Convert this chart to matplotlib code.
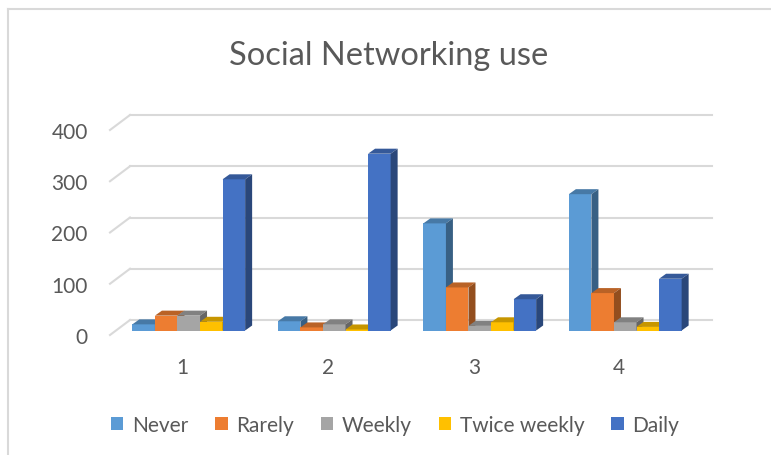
import matplotlib
matplotlib.use("Agg")
import matplotlib.pyplot as plt
from matplotlib.patches import Polygon, Patch
from matplotlib.lines import Line2D
from matplotlib.colors import to_rgb
import numpy as np

categories = ["1", "2", "3", "4"]
series = ["Never", "Rarely", "Weekly", "Twice weekly", "Daily"]
never = [12, 18, 209, 266]
rarely = [29, 6, 84, 73]
weekly = [29, 12, 9, 16]
twice_weekly = [17, 2, 16, 7]
daily = [295, 345, 61, 101]
colors = ["#5B9BD5", "#ED7D31", "#A5A5A5", "#FFC000", "#4472C4"]
yticks = [0, 100, 200, 300, 400]

plt.rcParams['font.family'] = ['Lato', 'DejaVu Sans']
TXT = "#595959"
GRID = "#d9d9d9"

W, H = 771, 456
fig = plt.figure(figsize=(W / 100, H / 100), dpi=100)
# front plane of the fake 3d box, in pixels
left, right, bot, top = 110, 692, 336, 131
ax = fig.add_axes([left / W, 1 - bot / H, (right - left) / W, (bot - top) / H])
ax.set_xlim(0.5, 4.5)
ax.set_ylim(0, 400)

sx = (right - left) / 4.0   # px per x unit
sy = (bot - top) / 400.0    # px per y unit

def off(px, py):
    return px / sx, py / sy

gdx, gdy = off(20, 15)   # back wall depth
bdx, bdy = off(6, 4.5)   # where bars sit
ddx, ddy = off(7, 5)     # bar depth

def shade(c, f):
    return tuple(np.array(to_rgb(c)) * f)

# gridlines: floor/side stub + back wall line
for v in yticks:
    ax.plot([0.5, 0.5 + gdx], [v, v + gdy], color=GRID, lw=1.5, clip_on=False, zorder=1)
    ax.plot([0.5 + gdx, 4.5 + gdx], [v + gdy, v + gdy], color=GRID, lw=1.5, clip_on=False, zorder=1)

data = [never, rarely, weekly, twice_weekly, daily]
bw = 0.155
gw = bw * len(series)
for i in range(len(categories)):
    for j, vals in enumerate(data):
        h = vals[i]
        c = colors[j]
        x0 = i + 1 - gw / 2 + j * bw + bdx
        y0 = bdy
        z = 3 + j
        ax.bar(x0, h, width=bw, bottom=y0, align='edge', color=c, lw=0, zorder=z, clip_on=False)
        topf = [(x0, y0 + h), (x0 + bw, y0 + h), (x0 + bw + ddx, y0 + h + ddy), (x0 + ddx, y0 + h + ddy)]
        side = [(x0 + bw, y0), (x0 + bw + ddx, y0 + ddy), (x0 + bw + ddx, y0 + h + ddy), (x0 + bw, y0 + h)]
        ax.add_patch(Polygon(topf, closed=True, color=shade(c, 0.78), lw=0, zorder=z, clip_on=False))
        ax.add_patch(Polygon(side, closed=True, color=shade(c, 0.62), lw=0, zorder=z, clip_on=False))

ax.set_yticks(yticks)
ax.set_yticklabels([str(v) for v in yticks])
ax.set_xticks(range(1, 5))
ax.set_xticklabels(categories)
ax.tick_params(axis='y', length=0, pad=16, labelsize=15, labelcolor=TXT)
ax.tick_params(axis='x', length=0, pad=16, labelsize=15, labelcolor=TXT)
for s in ax.spines.values():
    s.set_visible(False)

fig.text(389 / W, 1 - 56 / H, "Social Networking use", ha='center', va='center',
         fontsize=23.5, color=TXT)

handles = [Patch(facecolor=c, edgecolor='none') for c in colors]
fig.legend(handles, series, loc='center', bbox_to_anchor=(395 / W, 1 - 426 / H),
           ncol=5, frameon=False, fontsize=15, labelcolor=TXT,
           handlelength=0.6, handleheight=0.6, handletextpad=0.4, columnspacing=1.3)

# chart border (left and top visible)
fig.add_artist(Line2D([8 / W, 8 / W], [0, 1 - 10 / H], color=GRID, lw=1.5))
fig.add_artist(Line2D([8 / W, 1], [1 - 10 / H, 1 - 10 / H], color=GRID, lw=1.5))

fig.savefig("out.png", dpi=100)
